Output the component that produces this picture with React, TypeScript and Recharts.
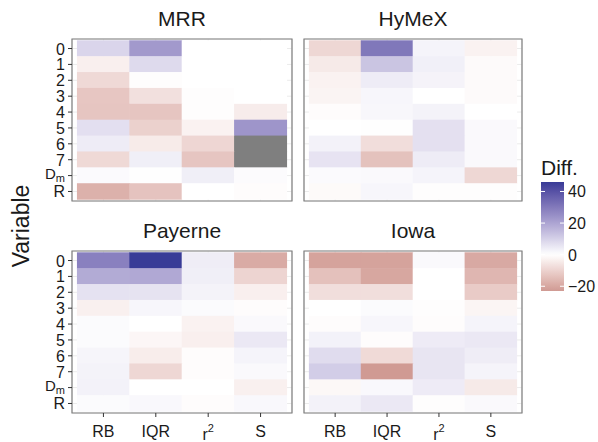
import React from "react";
import { ScatterChart, Scatter, XAxis, YAxis, CartesianGrid, ReferenceArea } from "recharts";

const FONT = "'Liberation Sans', Arial, Helvetica, sans-serif";

const metrics = ["RB", "IQR", "r2", "S"];
const variables = ["0", "1", "2", "3", "4", "5", "6", "7", "Dm", "R"];
const diffTicks = [40, 20, 0, -20];

// Diff. per variable (rows 0 … R) and metric (RB, IQR, r², S); null = not available
const mrr = [
  [9, 22.5, 0, 0],
  [-3.5, 8, 0, 0],
  [-8.5, -0.5, 0, 0],
  [-12.7, -6.8, -0.5, 0],
  [-13, -13, -0.5, -4.2],
  [6.8, -10.3, -2.8, 23.5],
  [4, -4.5, -9.2, null],
  [-8.5, 3.5, -13, null],
  [1, 0.3, 3.5, 0.8],
  [-17.6, -13.4, 0, -0.7],
];
const hymex = [
  [-8.9, 30.5, 2.3, -2.8],
  [-4.7, 12.7, 3.3, -1],
  [-2.8, 4, 2.5, -1],
  [-2.5, 1.9, 0, -1],
  [-0.7, 1.6, 2.6, 0],
  [0, -0.3, 6.6, 1.2],
  [2.8, -7.5, 6.6, 1.2],
  [5.9, -13.8, 4, 1.2],
  [1, 1.2, 2.3, -8.9],
  [-1.2, 2, -0.5, -0.5],
];
const payerne = [
  [28.4, 46, 3.8, -19],
  [18.5, 19.2, 3.5, -9.6],
  [6.3, 6.1, 2.6, -3.5],
  [-3.3, 1.9, 0.9, -0.7],
  [0.9, 0, -2.8, 1.2],
  [0.9, -1.9, -3.5, 4.9],
  [2.1, -4, -0.7, 2.3],
  [2.6, -8.9, -0.7, 1.2],
  [2.8, 0, 0, -3.3],
  [0.9, 1.4, -0.7, 1.4],
];
const iowa = [
  [-20.9, -21, 1.2, -19.5],
  [-14, -20, 0, -16.4],
  [-7.3, -7.3, 0, -11.7],
  [0, 0.9, -0.5, -2.3],
  [-0.7, 1.9, -0.7, 2.3],
  [2.8, -0.7, 4.2, 4.9],
  [7.5, -8.2, 5.6, 3.8],
  [10.8, -23, 5.6, 2.3],
  [-1.6, 1.4, 4.2, -4.7],
  [2.8, 4.9, -0.5, 1.2],
];

const allValues = [mrr, hymex, payerne, iowa]
  .flat(2)
  .filter((v): v is number => v !== null);
const DIFF_MAX = Math.max(...allValues);
const DIFF_MIN = Math.min(...allValues);

// ---- diverging colour scale (white at 0), interpolated in Lab ----
const HIGH = "#383b97";
const LOW = "#d09a93";
const NA_FILL = "#7f7f7f";

const toLin = (c: number) => {
  const v = c / 255;
  return v <= 0.04045 ? v / 12.92 : Math.pow((v + 0.055) / 1.055, 2.4);
};
const fromLin = (c: number) => {
  const v = c <= 0.0031308 ? 12.92 * c : 1.055 * Math.pow(c, 1 / 2.4) - 0.055;
  return Math.round(Math.max(0, Math.min(1, v)) * 255);
};
const WX = 0.95047, WZ = 1.08883;
function hexToLab(hex: string) {
  const r = toLin(parseInt(hex.slice(1, 3), 16));
  const g = toLin(parseInt(hex.slice(3, 5), 16));
  const b = toLin(parseInt(hex.slice(5, 7), 16));
  const X = (0.4124 * r + 0.3576 * g + 0.1805 * b) / WX;
  const Y = 0.2126 * r + 0.7152 * g + 0.0722 * b;
  const Z = (0.0193 * r + 0.1192 * g + 0.9505 * b) / WZ;
  const f = (t: number) => (t > 0.008856 ? Math.cbrt(t) : 7.787 * t + 16 / 116);
  return [116 * f(Y) - 16, 500 * (f(X) - f(Y)), 200 * (f(Y) - f(Z))];
}
function labToHex([L, a, bb]: number[]) {
  const fy = (L + 16) / 116;
  const fx = fy + a / 500;
  const fz = fy - bb / 200;
  const inv = (t: number) => (t * t * t > 0.008856 ? t * t * t : (t - 16 / 116) / 7.787);
  const X = WX * inv(fx), Y = inv(fy), Z = WZ * inv(fz);
  const r = 3.2406 * X - 1.5372 * Y - 0.4986 * Z;
  const g = -0.9689 * X + 1.8758 * Y + 0.0415 * Z;
  const b = 0.0557 * X - 0.204 * Y + 1.057 * Z;
  return "#" + [r, g, b].map((c) => fromLin(c).toString(16).padStart(2, "0")).join("");
}
const WHITE_LAB = hexToLab("#ffffff");
const HIGH_LAB = hexToLab(HIGH);
const LOW_LAB = hexToLab(LOW);

function diffColor(v: number | null) {
  if (v === null || v === undefined) return NA_FILL;
  const t = Math.min(1, v >= 0 ? v / DIFF_MAX : v / DIFF_MIN);
  const end = v >= 0 ? HIGH_LAB : LOW_LAB;
  return labToHex(WHITE_LAB.map((w, i) => w + (end[i] - w) * t));
}

// ---- panels ----
const W = 598, H = 442;
const Y_AXIS_W = 40, X_AXIS_H = 26;

type Box = { x: number; y: number; w: number; h: number };

function VariableTick(props: any) {
  const { x, y, payload } = props;
  const label = variables[payload.value - 1];
  if (label === "Dm") {
    return (
      <text x={x - 1} y={y} textAnchor="end" fontSize={15} fontFamily={FONT} fill="#1a1a1a">
        <tspan dy={3}>D</tspan>
        <tspan fontSize={11} dy={3}>m</tspan>
      </text>
    );
  }
  return (
    <text x={x - 1} y={y} dy={6} textAnchor="end" fontSize={16} fontFamily={FONT} fill="#1a1a1a">
      {label}
    </text>
  );
}

function MetricTick(props: any) {
  const { x, y, payload } = props;
  const label = metrics[payload.value - 1];
  if (label === "r2") {
    return (
      <text x={x} y={y + 21} textAnchor="middle" fontSize={16} fontFamily={FONT} fill="#1a1a1a">
        <tspan>r</tspan>
        <tspan fontSize={11} dy={-8}>2</tspan>
      </text>
    );
  }
  return (
    <text x={x} y={y + 18} textAnchor="middle" fontSize={16} fontFamily={FONT} fill="#1a1a1a">
      {label}
    </text>
  );
}

function Panel({ title, values, box, showX, showY }: {
  title: string; values: (number | null)[][]; box: Box; showX: boolean; showY: boolean;
}) {
  const cells = values.flatMap((row, i) => row.map((v, j) => ({ x: j + 1, y: i + 1, value: v })));
  const cw = box.w / 4.2;
  const ch = box.h / 10.2;
  const Tile = (p: any) => (
    <rect
      x={p.cx - cw / 2 - 0.3}
      y={p.cy - ch / 2 - 0.3}
      width={cw + 0.6}
      height={ch + 0.6}
      fill={diffColor(p.payload.value)}
    />
  );
  return (
    <>
      <div
        style={{
          position: "absolute", left: box.x, top: box.y - 32, width: box.w,
          textAlign: "center", fontSize: 21, lineHeight: "24px", fontFamily: FONT, color: "#1a1a1a",
        }}
      >
        {title}
      </div>
      <div style={{ position: "absolute", left: 0, top: 0 }}>
        <ScatterChart
          width={W}
          height={H}
          margin={{
            top: box.y,
            left: showY ? box.x - Y_AXIS_W : box.x,
            right: W - box.x - box.w,
            bottom: H - box.y - box.h - (showX ? X_AXIS_H : 0),
          }}
        >
          <CartesianGrid stroke="#ebebeb" />
          <XAxis
            type="number"
            dataKey="x"
            domain={[0.4, 4.6]}
            ticks={[1, 2, 3, 4]}
            interval={0}
            hide={!showX}
            height={X_AXIS_H}
            axisLine={false}
            tickLine={{ stroke: "#333" }}
            tickSize={4}
            tick={<MetricTick />}
          />
          <YAxis
            type="number"
            dataKey="y"
            domain={[0.4, 10.6]}
            reversed
            ticks={[1, 2, 3, 4, 5, 6, 7, 8, 9, 10]}
            interval={0}
            hide={!showY}
            width={Y_AXIS_W}
            axisLine={false}
            tickLine={{ stroke: "#333" }}
            tickSize={4}
            tick={<VariableTick />}
          />
          <Scatter data={cells} shape={Tile} isAnimationActive={false} />
          <ReferenceArea x1={0.4} x2={4.6} y1={0.4} y2={10.6} fill="none" stroke="#7f7f7f" strokeWidth={1.2} ifOverflow="visible" />
        </ScatterChart>
      </div>
    </>
  );
}

// ---- colour bar ----
function DiffLegend() {
  const top = 182, bottom = 291, left = 541, right = 564;
  const yOf = (v: number) => top + ((DIFF_MAX - v) / (DIFF_MAX - DIFF_MIN)) * (bottom - top);
  const stops = Array.from({ length: 41 }, (_, i) => DIFF_MAX - (i / 40) * (DIFF_MAX - DIFF_MIN));
  return (
    <svg width={W} height={H} style={{ position: "absolute", left: 0, top: 0 }}>
      <defs>
        <linearGradient id="diffbar" x1="0" y1="0" x2="0" y2="1">
          {stops.map((v, i) => (
            <stop key={i} offset={`${(i / 40) * 100}%`} stopColor={diffColor(v)} />
          ))}
        </linearGradient>
      </defs>
      <text x={left} y={175} fontSize={21} fontFamily={FONT} fill="#1a1a1a">Diff.</text>
      <rect x={left} y={top} width={right - left} height={bottom - top} fill="url(#diffbar)" />
      {diffTicks.map((v) => (
        <g key={v}>
          <line x1={left} x2={left + 4} y1={yOf(v)} y2={yOf(v)} stroke="#fff" />
          <line x1={right - 4} x2={right} y1={yOf(v)} y2={yOf(v)} stroke="#fff" />
          <text x={right + 4} y={yOf(v)} dy={6} fontSize={16} fontFamily={FONT} fill="#1a1a1a">
            {v < 0 ? `\u2212${-v}` : v}
          </text>
        </g>
      ))}
    </svg>
  );
}

const panels = [
  { title: "MRR", values: mrr, box: { x: 72, y: 39, w: 220, h: 162 }, showX: false, showY: true },
  { title: "HyMeX", values: hymex, box: { x: 304, y: 39, w: 218, h: 162 }, showX: false, showY: false },
  { title: "Payerne", values: payerne, box: { x: 72, y: 251, w: 220, h: 162 }, showX: true, showY: true },
  { title: "Iowa", values: iowa, box: { x: 304, y: 251, w: 218, h: 162 }, showX: true, showY: false },
];

export default function App() {
  return (
    <div style={{ position: "absolute", left: 0, top: 0, width: W, height: H, background: "#fff", overflow: "hidden" }}>
      {panels.map((p) => (
        <Panel key={p.title} {...p} />
      ))}
      <div
        style={{
          position: "absolute", left: 21, top: 226, transform: "translate(-50%, -50%) rotate(-90deg)",
          fontSize: 23, fontFamily: FONT, color: "#1a1a1a", whiteSpace: "nowrap",
        }}
      >
        Variable
      </div>
      <DiffLegend />
    </div>
  );
}
